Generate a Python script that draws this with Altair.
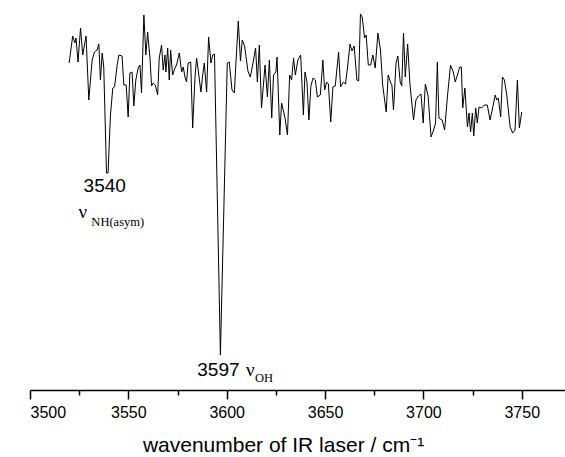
import altair as alt
import pandas as pd

# IR spectrum (wavenumber / cm^-1, ion signal / arb. units)
wavenumber = [
    3519.9, 3521.7, 3522.8, 3523.4, 3524.4, 3525.7, 3526.8, 3528.5, 3529.9, 3531.6,
    3532.8, 3534.1, 3535.0, 3535.8, 3536.7, 3537.5, 3538.9, 3539.7, 3540.9, 3542.1,
    3543.0, 3544.3, 3545.2, 3546.8, 3547.7, 3548.9, 3549.9, 3550.8, 3551.9, 3552.8,
    3553.8, 3555.0, 3555.9, 3556.7, 3557.9, 3558.9, 3559.8, 3561.0, 3561.8, 3562.6,
    3563.7, 3564.9, 3565.7, 3566.9, 3567.7, 3568.6, 3569.1, 3570.0, 3570.8, 3571.5,
    3572.5, 3573.7, 3574.5, 3575.9, 3577.1, 3577.9, 3578.8, 3579.6, 3580.4, 3581.7,
    3582.7, 3583.9, 3584.7, 3585.7, 3586.9, 3587.8, 3588.6, 3589.8, 3590.8, 3592.0,
    3592.9, 3593.8, 3596.8, 3600.3, 3601.3, 3602.7, 3603.9, 3604.7, 3605.9, 3607.0,
    3607.9, 3609.1, 3610.8, 3612.0, 3613.2, 3614.7, 3615.6, 3616.6, 3617.7, 3619.5,
    3620.7, 3621.7, 3622.9, 3623.8, 3625.0, 3625.6, 3627.0, 3627.9, 3629.1, 3629.8,
    3630.9, 3632.0, 3633.0, 3634.0, 3634.9, 3636.2, 3637.6, 3639.0, 3639.8, 3640.8,
    3641.8, 3642.8, 3643.9, 3645.1, 3646.1, 3647.6, 3648.9, 3649.8, 3650.8, 3651.7,
    3652.9, 3654.0, 3655.2, 3656.9, 3657.9, 3659.3, 3660.4, 3661.4, 3662.7, 3663.7,
    3664.8, 3666.2, 3667.1, 3668.0, 3668.9, 3670.1, 3670.9, 3672.0, 3673.2, 3674.3,
    3675.5, 3676.9, 3678.2, 3679.3, 3681.1, 3682.1, 3683.4, 3684.0, 3684.8, 3686.1,
    3687.0, 3688.2, 3689.0, 3689.9, 3690.8, 3692.0, 3693.2, 3695.0, 3696.2, 3697.5,
    3698.8, 3699.9, 3701.0, 3702.4, 3703.9, 3705.2, 3706.2, 3707.1, 3707.9, 3709.5,
    3710.8, 3712.2, 3713.8, 3715.2, 3716.2, 3717.3, 3718.5, 3719.3, 3720.0, 3721.1,
    3722.4, 3723.2, 3724.0, 3724.9, 3725.6, 3726.6, 3727.4, 3728.3, 3729.6, 3731.0,
    3732.5, 3733.9, 3735.2, 3736.5, 3737.3, 3738.1, 3739.3, 3740.2, 3741.2, 3742.4,
    3744.1, 3745.4, 3746.6, 3747.8, 3748.8, 3750.0,
]
signal = [
    327, 354, 347, 352, 328, 362, 335, 354, 290, 330,
    338, 340, 346, 310, 337, 323, 217, 217, 275, 302,
    303, 325, 335, 334, 305, 305, 273, 317, 318, 284,
    310, 322, 325, 297, 375, 335, 358, 332, 304, 307,
    305, 295, 332, 345, 320, 335, 318, 342, 310, 340,
    315, 322, 325, 337, 318, 323, 313, 308, 327, 328,
    262, 313, 332, 317, 298, 315, 327, 298, 353, 327,
    335, 336, 35, 327, 328, 300, 297, 327, 369, 329,
    350, 344, 319, 313, 325, 342, 308, 345, 282, 325,
    293, 330, 272, 315, 318, 333, 255, 287, 277, 270,
    255, 315, 310, 332, 315, 330, 335, 275, 318, 308,
    270, 304, 312, 310, 293, 295, 330, 300, 308, 306,
    268, 303, 304, 338, 303, 308, 306, 322, 346, 339,
    344, 310, 309, 376, 373, 352, 355, 325, 325, 335,
    322, 357, 340, 305, 278, 315, 307, 305, 280, 327,
    334, 308, 304, 357, 313, 346, 305, 270, 290, 294,
    296, 267, 306, 294, 253, 260, 267, 328, 272, 270,
    260, 293, 325, 318, 308, 315, 323, 323, 282, 302,
    263, 277, 258, 277, 254, 282, 267, 283, 282, 285,
    285, 270, 282, 295, 290, 292, 273, 313, 310, 295,
    263, 257, 260, 310, 262, 278,
]

major_ticks = [3500, 3550, 3600, 3650, 3700, 3750]
minor_ticks = [3525, 3575, 3625, 3675, 3725]

# peak annotations
peak_labels = ["3540", "3597"]
peak_x = [3538.0, 3595.8]
peak_y = [204, 20]
nu_x = [3524.6, 3609.8]
nu_y = [172, 14]
sub_text = ["NH(asym)", "OH"]
sub_x = [3531.2, 3614.4]
sub_y = [164, 8]

spec = pd.DataFrame({"w": wavenumber, "s": signal})
peaks = pd.DataFrame({"t": peak_labels, "w": peak_x, "s": peak_y})
nus = pd.DataFrame({"t": ["\u03bd", "\u03bd"], "w": nu_x, "s": nu_y})
subs = pd.DataFrame({"t": sub_text, "w": sub_x, "s": sub_y})

xscale = alt.Scale(domain=[3500, 3772], nice=False, zero=False)
yscale = alt.Scale(domain=[0, 380], nice=False, zero=False)

line = alt.Chart(spec).mark_line(color="black", strokeWidth=1).encode(
    x=alt.X("w:Q", scale=xscale,
            axis=alt.Axis(orient="bottom", values=major_ticks, format="d",
                          title="wavenumber of IR laser / cm\u207b\u00b9",
                          titleFont="Liberation Sans", titleFontSize=21,
                          titleFontWeight="normal", titleColor="black",
                          titleX=253, titleY=61, titleAlign="center",
                          titleBaseline="alphabetic",
                          labelFont="Liberation Sans", labelFontSize=16,
                          labelColor="black", labelPadding=5,
                          tickSize=9, tickWidth=1.5, tickColor="black",
                          domainColor="black", domainWidth=1.5, grid=False)),
    y=alt.Y("s:Q", scale=yscale, axis=None),
)

minor = alt.Chart(spec).mark_point(opacity=0).encode(
    x=alt.X("w:Q", scale=xscale,
            axis=alt.Axis(orient="bottom", values=minor_ticks, labels=False,
                          title=None, domain=False, tickSize=5, tickWidth=1.5,
                          tickColor="black", grid=False)),
    y=alt.Y("s:Q", scale=yscale, axis=None),
)

num_text = alt.Chart(peaks).mark_text(
    font="Liberation Sans", fontSize=19, align="center", baseline="middle", color="black"
).encode(x=alt.X("w:Q", scale=xscale, axis=None),
         y=alt.Y("s:Q", scale=yscale, axis=None), text="t:N")

nu_text = alt.Chart(nus).mark_text(
    font="Liberation Serif", fontSize=19, align="left", baseline="alphabetic", color="black"
).encode(x=alt.X("w:Q", scale=xscale, axis=None),
         y=alt.Y("s:Q", scale=yscale, axis=None), text="t:N")

sub_txt = alt.Chart(subs).mark_text(
    font="Liberation Serif", fontSize=12.5, align="left", baseline="alphabetic", color="black"
).encode(x=alt.X("w:Q", scale=xscale, axis=None),
         y=alt.Y("s:Q", scale=yscale, axis=None), text="t:N")

chart = alt.layer(line, minor, num_text, nu_text, sub_txt).resolve_axis(
    x="independent"
).properties(
    width=535, height=380,
    autosize=alt.AutoSizeParams(type="none"),
    padding={"left": 30, "top": 10, "right": 0, "bottom": 67},
    background="white",
).configure_view(stroke=None)

chart.save("out.html", embed_options={"renderer": "svg", "actions": False})
